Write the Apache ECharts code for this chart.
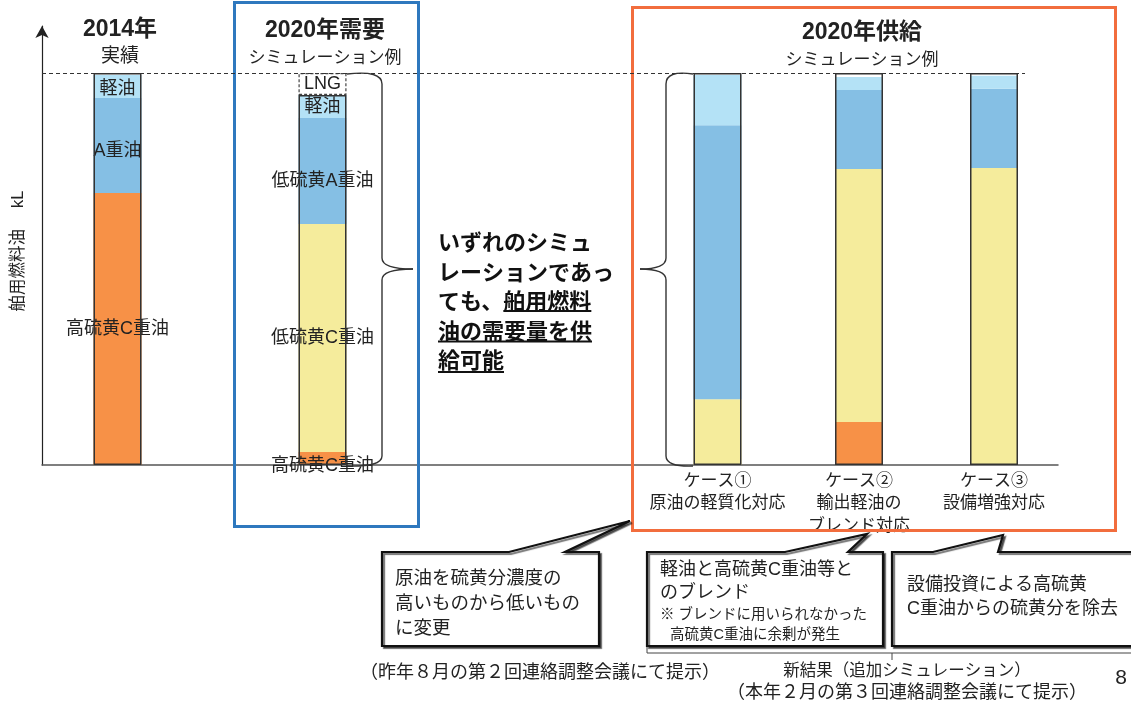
<!DOCTYPE html>
<html><head><meta charset="utf-8">
<script src="https://cdn.jsdelivr.net/npm/echarts@6/dist/echarts.min.js"></script>
<style>html,body{margin:0;padding:0;background:#fff}#c{width:1131px;height:702px}</style>
</head><body><div id="c"></div>
<script>
// ---------- data ----------
const barNames = ['2014年実績', '2020年需要', 'ケース①', 'ケース②', 'ケース③'];
const highSulfurC = [69.4, 3.3, null, 11.0, null];
const lowSulfurC = [null, 58.2, 16.8, 64.5, 75.8];
const heavyA = [24.2, 27.0, 69.9, 20.2, 20.2];
const lightOil = [5.9, 5.9, 12.8, 3.3, 3.3];
const lngDemand = [null, 5.6, null, null, null];
const demandLevel = 100;
const highCLabels = ['高硫黄C重油', '高硫黄C重油', '', '', ''];
const lowCLabels = ['', '低硫黄C重油', '', '', ''];
const heavyALabels = ['A重油', '低硫黄A重油', '', '', ''];
const lightLabels = ['軽油', '軽油', '', '', ''];
const lngLabels = ['', 'LNG', '', '', ''];
const axisLabels = ['', '', 'ケース①\n原油の軽質化対応', 'ケース②\n輸出軽油の\nブレンド対応', 'ケース③\n設備増強対応'];
const yAxisName = '舶用燃料油　 kL';

// ---------- layout ----------
const barCenters = [117.5, 322.5, 717.5, 859, 994];
const BW = 48, TOP = 26, BOTTOM = 237, YMAX = 112;
const JP = '"Liberation Sans", "Noto Sans CJK JP", sans-serif';
const C = { highC: '#F79147', lowC: '#F5EC9C', A: '#85BFE4', light: '#B4E2F6' };
const labelShift = { '低硫黄A重油@1': 10, '高硫黄C重油@1': 7, 'A重油@0': 5, '軽油@0': 2 };

const grids = [{ left: 42, right: 73, top: TOP, bottom: BOTTOM }];
const xAxes = [{
  type: 'value', gridIndex: 0, min: 0, max: 1016,
  axisLine: { show: true, onZero: false, lineStyle: { color: '#555', width: 1.5 } },
  axisTick: { show: false }, axisLabel: { show: false }, splitLine: { show: false }
}];
const yAxes = [{
  type: 'value', gridIndex: 0, min: 0, max: YMAX,
  name: yAxisName, nameLocation: 'middle', nameRotate: 90, nameGap: 15,
  nameTextStyle: { fontSize: 16.5, color: '#222', fontFamily: JP, padding: [0, 11, 0, 0] },
  axisLine: { show: true, onZero: false, symbol: ['none', 'arrow'], symbolSize: [10, 12],
              lineStyle: { color: '#222', width: 1.2 } },
  axisTick: { show: false }, axisLabel: { show: false }, splitLine: { show: false }
}];
const series = [{
  type: 'line', xAxisIndex: 0, yAxisIndex: 0, data: [], silent: true,
  markLine: {
    silent: true, symbol: ['none', 'none'], label: { show: false },
    lineStyle: { type: [4, 3], color: '#333', width: 1 },
    data: [[{ coord: [0, demandLevel] }, { coord: [983, demandLevel] }]]
  }
}];

const fuels = [
  { name: '高硫黄C重油', vals: highSulfurC, color: C.highC, labels: highCLabels },
  { name: '低硫黄C重油', vals: lowSulfurC, color: C.lowC, labels: lowCLabels },
  { name: 'A重油', vals: heavyA, color: C.A, labels: heavyALabels },
  { name: '軽油', vals: lightOil, color: C.light, labels: lightLabels },
  { name: 'LNG', vals: lngDemand, color: '#fff', labels: lngLabels,
    extra: { borderColor: '#444', borderWidth: 1.2, borderType: [3, 2] } }
];

barNames.forEach(function (bn, i) {
  const gi = i + 1;
  grids.push({ left: barCenters[i] - BW / 2, width: BW, top: TOP, bottom: BOTTOM });
  xAxes.push({
    type: 'category', gridIndex: gi, data: [bn],
    axisLine: { show: false }, axisTick: { show: false }, splitLine: { show: false },
    axisLabel: { show: true, interval: 0, margin: 5, fontSize: 17, lineHeight: 22.5, color: '#222',
                 fontFamily: JP, formatter: function () { return axisLabels[i]; } }
  });
  yAxes.push({ type: 'value', gridIndex: gi, min: 0, max: YMAX, show: false });
  let outline = 0;
  fuels.forEach(function (f) {
    const v = f.vals[i];
    if (v == null) return;
    if (f.name !== 'LNG') outline += v;
    const t = f.labels[i];
    const dy = labelShift[t + '@' + i] || 0;
    series.push({
      type: 'bar', name: f.name, xAxisIndex: gi, yAxisIndex: gi, stack: 'bar' + i,
      barWidth: BW, barGap: '-100%', z: 2,
      itemStyle: Object.assign({ color: f.color }, f.extra || {}),
      data: [{ value: v, label: t ? { show: true, position: 'inside', formatter: t, color: '#222',
        fontSize: 18, fontFamily: JP, offset: [0, dy] } : { show: false } }]
    });
  });
  const top = lngDemand[i] != null ? outline : demandLevel;
  series.push({
    type: 'bar', name: 'outline', xAxisIndex: gi, yAxisIndex: gi, barWidth: BW, barGap: '-100%',
    z: 3, silent: true,
    itemStyle: { color: 'rgba(0,0,0,0)', borderColor: '#333', borderWidth: 1.5 },
    data: [top]
  });
});

const chart = echarts.init(document.getElementById('c'), null, { renderer: 'canvas' });
chart.setOption({
  animation: false, backgroundColor: '#fff',
  grid: grids, xAxis: xAxes, yAxis: yAxes, series: series
});

// ---------- annotations ----------
function txt(t, x, y, size, opt) {
  opt = opt || {};
  return { type: 'text', silent: true, z: 20, style: {
    text: t, x: x, y: y, fill: opt.fill || '#222', fontSize: size, fontFamily: opt.family || JP,
    fontWeight: opt.bold ? 'bold' : 'normal', align: opt.align || 'center',
    verticalAlign: opt.va || 'middle', lineHeight: opt.lh || undefined } };
}
const g = [];
const lineStyle = { fill: 'none', stroke: '#333', lineWidth: 1.4 };
function ln(x1, y1, x2, y2, st) {
  return { type: 'line', silent: true, z: 6, shape: { x1: x1, y1: y1, x2: x2, y2: y2 }, style: st || lineStyle };
}
function qc(x1, y1, cx, cy, x2, y2) {
  return { type: 'bezierCurve', silent: true, z: 6,
    shape: { x1: x1, y1: y1, cpx1: cx, cpy1: cy, x2: x2, y2: y2 }, style: lineStyle };
}
function brace(xe, xv, xt) {
  g.push(qc(xe, 74, xv, 70, xv, 84));
  g.push(ln(xv, 84, xv, 258));
  g.push(qc(xv, 258, xv, 269, xt, 269));
  g.push(qc(xt, 269, xv, 269, xv, 280));
  g.push(ln(xv, 280, xv, 456));
  g.push(qc(xv, 456, xv, 467, xe, 466));
}
// frames
g.push({ type: 'rect', z: 1, silent: true, shape: { x: 234.5, y: 2.5, width: 184, height: 524 },
  style: { fill: 'none', stroke: '#2E78BE', lineWidth: 3 } });
g.push({ type: 'rect', z: 1, silent: true, shape: { x: 632.5, y: 7.5, width: 483, height: 523 },
  style: { fill: 'none', stroke: '#F26D3D', lineWidth: 3 } });
// titles
g.push(txt('2014年', 120, 30, 23, { bold: true }));
g.push(txt('実績', 120, 57, 19));
g.push(txt('2020年需要', 325, 31, 23, { bold: true }));
g.push(txt('シミュレーション例', 325, 58, 17));
g.push(txt('2020年供給', 862, 33, 23, { bold: true }));
g.push(txt('シミュレーション例', 862, 60, 17));
// braces
brace(347, 382, 413);
brace(693, 666, 640);
// main message
const msgLines = ['いずれのシミュ', 'レーションであっ', 'ても、舶用燃料', '油の需要量を供', '給可能'];
const mx = 438, my0 = 242, mlh = 29.5, msz = 22;
msgLines.forEach(function (l, k) {
  g.push(txt(l, mx, my0 + k * mlh, msz, { bold: true, align: 'left', family: '"Noto Sans CJK JP", sans-serif', fill: '#111' }));
});
const cv = document.createElement('canvas').getContext('2d');
cv.font = 'bold ' + msz + 'px "Noto Sans CJK JP"';
const w3a = cv.measureText('ても、').width, w3b = cv.measureText('舶用燃料').width;
const w4 = cv.measureText(msgLines[3]).width, w5 = cv.measureText(msgLines[4]).width;
const ul = { stroke: '#111', lineWidth: 2 };
g.push(ln(mx + w3a, 311, mx + w3a + w3b, 311, ul));
g.push(ln(mx, 341.5, mx + w4, 341.5, ul));
g.push(ln(mx, 372, mx + w5, 372, ul));
// callouts
const shadow = { shadowBlur: 1, shadowOffsetX: 2, shadowOffsetY: 2, shadowColor: 'rgba(0,0,0,0.55)' };
function callout(points) {
  return { type: 'polygon', silent: true, z: 8, shape: { points: points },
    style: Object.assign({ fill: '#fff', stroke: '#111', lineWidth: 2.2 }, shadow) };
}
g.push(callout([[382, 552], [509, 552], [630, 521], [565, 552], [599, 552], [599, 646], [382, 646]]));
g.push(callout([[647, 552], [785, 552], [867, 534], [848, 552], [883, 552], [883, 646], [647, 646]]));
g.push(callout([[892, 552], [933, 552], [1003, 535], [998, 552], [1140, 552], [1140, 646], [892, 646]]));
g.push(txt('原油を硫黄分濃度の\n高いものから低いもの\nに変更', 395, 566, 18.5, { align: 'left', va: 'top', lh: 25 }));
g.push(txt('軽油と高硫黄C重油等と', 660, 570, 18, { align: 'left' }));
g.push(txt('のブレンド', 660, 593, 18, { align: 'left' }));
g.push(txt('※ ブレンドに用いられなかった', 660, 615, 14.5, { align: 'left' }));
g.push(txt('高硫黄C重油に余剰が発生', 670, 635, 14.5, { align: 'left' }));
g.push(txt('設備投資による高硫黄', 907, 585, 18, { align: 'left' }));
g.push(txt('C重油からの硫黄分を除去', 907, 609, 18, { align: 'left' }));
// bottom bracket + notes
const br = { stroke: '#444', lineWidth: 1 };
g.push(ln(647, 646, 647, 653, br));
g.push(ln(647, 653, 1131, 653, br));
g.push(ln(892, 653, 892, 660, br));
g.push(txt('（昨年８月の第２回連絡調整会議にて提示）', 540, 673, 18));
g.push(txt('新結果（追加シミュレーション）', 907, 671, 16.5));
g.push(txt('（本年２月の第３回連絡調整会議にて提示）', 907, 693, 18));
g.push(txt('8', 1121, 678, 21));
chart.setOption({ graphic: { elements: g } });
</script></body></html>
